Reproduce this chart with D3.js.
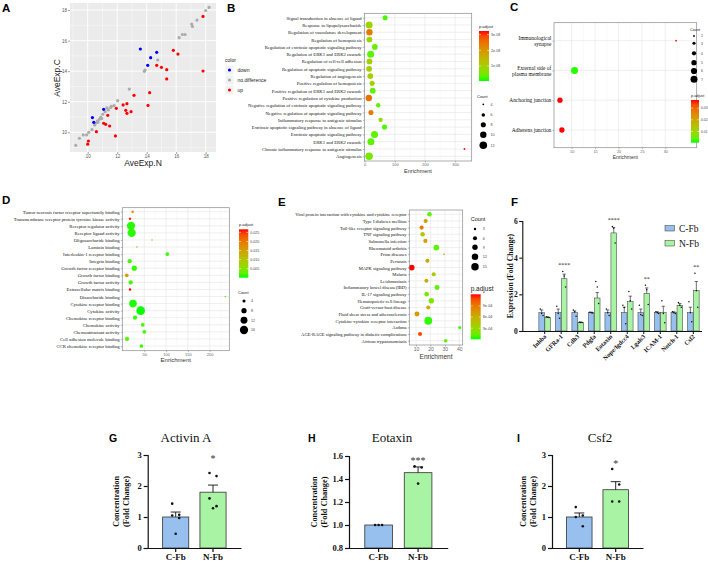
<!DOCTYPE html>
<html lang="en">
<head>
<meta charset="UTF-8">
<title>fibroblast expression figure</title>
<style>
body{margin:0;background:#fff;}
svg{display:block;}
</style>
</head>
<body>
<script src="https://cdn.jsdelivr.net/npm/d3@7"></script>
<script>
// ---------- data: A (AveExp.N, AveExp.C)
var aSame = [[18.23,18.17],[18.0,17.97],[17.41,17.34],[17.05,17.08],[17.1,16.93],[16.6,16.4],[16.42,16.4],[16.2,16.19],
  [14.75,14.73],[13.89,14.07],[13.84,13.99],[12.82,12.83],[12.03,12.07],[11.79,11.74],[11.56,11.63],[11.6,11.7],
  [11.4,11.46],[11.3,11.6],[11.18,11.35],[11.02,11.18],[10.95,10.9],[10.88,10.98],[10.79,10.85],[10.7,10.65],
  [10.65,10.74],[10.54,10.59],[10.47,10.48],[10.29,10.17],[10.07,10.0],[9.93,9.83],[9.7,9.83],[9.44,9.61],[9.19,9.15]];
var aDown = [[13.57,15.45],[14.68,15.23],[14.27,14.88],[14.07,14.38],[11.08,11.5],[10.32,10.96],[10.41,10.65]];
var aUp = [[17.82,17.58],[15.81,15.36],[16.12,15.12],[14.68,14.38],[15.0,14.25],[15.36,14.1],[15.36,13.49],[17.82,14.01],
  [14.2,12.59],[13.14,12.42],[14.09,11.76],[12.66,11.87],[12.4,11.79],[12.58,11.44],[12.94,11.35],[12.66,11.24],
  [11.94,11.57],[11.36,11.11],[11.08,10.59],[11.22,10.52],[11.49,10.41],[10.59,10.04],[11.88,9.76],[10.05,9.43],[10.0,9.22]];

// ---------- data: B (GO BP)
var bTerms = ["Signal transduction in absence of ligand","Response to lipopolysaccharide","Regulation of vasculature development",
  "Regulation of hemopoiesis","Regulation of extrinsic apoptotic signaling pathway","Regulation of ERK1 and ERK2 cascade",
  "Regulation of cell-cell adhesion","Regulation of  apoptotic signaling pathway","Regulation of  angiogenesis",
  "Positive regulation of hemopoiesis","Positive regulation of ERK1 and ERK2 cascade","Positive regulation of cytokine production",
  "Negative regulation of extrinsic apoptotic signaling pathway","Negative regulation of apoptotic signaling pathway",
  "Inflammatory response to antigenic stimulus","Extrinsic apoptotic signaling pathway in absence of ligand",
  "Extrinsic apoptotic signaling pathway","ERK1 and ERK2 cascade","Chronic inflammatory response to antigenic stimulus","Angiogenesis"];
var bEnrich = [68,15,16,16,34,20,16,15,19,25,27,14,45,21,53,66,33,21,331,15];
var bCount = [8,11,10,9,9,11,9,9,9,8,9,10,7,8,7,8,11,11,4,12];
var bPadj = [0.2e-8,0.9e-8,2.4e-8,0.9e-8,0.4e-8,0.3e-8,1.0e-8,1.0e-8,1.0e-8,1.0e-8,0.3e-8,2.5e-8,0.3e-8,2.4e-8,0.8e-8,0.2e-8,0.3e-8,0.3e-8,3.3e-8,0.5e-8];

// ---------- data: C (GO CC)
var cTerms = ["Immunological\nsynapse","External side of\nplasma membrane","Anchoring junction","Adherens junction"];
var cEnrich = [32.3,10.6,7.5,7.9];
var cCount = [2,7,5,5];
var cPadj = [0.0365,0.001,0.0369,0.0369];

// ---------- data: D (GO MF)
var dTerms = ["Tumor necrosis factor receptor superfamily binding","Transmembrane receptor protein tyrosine kinase activity",
  "Receptor regulator activity","Receptor ligand activity","Oligosaccharide binding","Laminin binding","Interleukin-1 receptor binding",
  "Integrin binding","Growth factor receptor binding","Growth factor binding","Growth factor activity","Extracellular matrix binding",
  "Disaccharide binding","Cytokine receptor binding","Cytokine activity","Chemokine receptor binding","Chemokine activity",
  "Chemoattractant activity","Cell adhesion molecule binding","CCR chemokine receptor binding"];
var dEnrich = [23.3,17.2,19.5,21,67.7,33,102.8,16.4,27,9.6,18.7,17.2,235.8,24,41.7,28.7,46.3,50,10.3,43.2];
var dCount = [3,3,16,16,2,2,5,6,8,5,6,3,2,14,17,6,5,5,6,5];
var dPadj = [0.018,0.026,0.0005,0.0005,0.006,0.012,0.001,0.001,0.0008,0.015,0.001,0.0267,0.002,0.0003,0.0001,0.0008,0.001,0.001,0.002,0.001];

// ---------- data: E (KEGG)
var eTerms = ["Viral protein interaction with cytokine and cytokine receptor","Type I diabetes mellitus","Toll-like receptor signaling pathway",
  "TNF signaling pathway","Salmonella infection","Rheumatoid arthritis","Prion diseases","Pertussis","MAPK signaling pathway","Malaria",
  "Leishmaniasis","Inflammatory bowel disease(IBD)","IL-17 signaling pathway","Hematopoietic cell lineage","Graft-versus-host disease",
  "Fluid shear stress and atherosclerosis","Cytokine-cytokine receptor interaction","Asthma",
  "AGE-RAGE signaling pathway in diabetic complications","African trypanosomiasis"];
var eEnrich = [19.3,16.7,13.9,14.6,16.5,24.1,29.4,17.9,7,22.3,17.2,24.6,17.4,20.6,18.5,10.7,18.5,40.3,12.8,30.6];
var eCount = [7,6,6,7,6,10,2,6,10,6,6,8,7,9,6,8,16,4,6,5];
var ePadj = [0.0001,0.0007,0.0009,0.0004,0.0007,0.0001,0.0009,0.0006,0.00121,0.0004,0.0006,0.0001,0.0002,0.0002,0.0006,0.0007,0.00003,0.00005,0.0011,0.0001];

// ---------- data: F (qPCR)
var fGenes = ["Inhba","GFRa-1","Cdh3","Pdgfa","Eotaxin","Nope/Igdcc4","Lgals3","ICAM-1","Notch-1","Csf2"];
var fCMean = [1,1,1,1,1,1,1,1,1,1];
var fCSem = [0.15,0.2,0.1,0.03,0.15,0.3,0.2,0.05,0.05,0.3];
var fNMean = [0.75,2.85,0.47,1.8,5.35,1.6,2.05,1.0,1.4,2.2];
var fNSem = [0.02,0.25,0.02,0.3,0.3,0.3,0.3,0.35,0.1,0.5];
var fCPts = [[1.2,0.95,0.85],[1.35,0.95,0.7],[1.15,1.05,0.8],[1.02,1.0,0.98],[1.2,1.0,0.85],[1.4,1.28,0.4],[1.4,0.9,0.85],[1.05,1.0,0.95],[1.05,1.0,0.95],[1.6,1.0,0.5]];
var fNPts = [[0.78,0.75,0.73],[3.25,3.0,2.4],[0.48,0.47,0.46],[2.7,2.4,1.5],[5.7,5.6,4.8],[2.15,1.65,1.2],[2.5,2.25,1.45],[1.65,0.95,0.45],[1.55,1.4,1.3],[3.15,2.2,1.3]];
var fStars = ["","****","","","****","","**","","","**"];

// ---------- data: G, H, I (ELISA)
var groups = ["C-Fb","N-Fb"];
var gMean = [1.0,1.8], gSem = [0.16,0.23];
var gPts = [[1.43,1.07,1.05,0.97,0.46],[2.42,2.32,1.6,1.35,1.28]];
var hMean = [1.0,1.455], hSem = [0.0,0.05];
var hPts = [[1.0,1.0,1.0],[1.51,1.50,1.36]];
var iMean = [1.0,1.88], iSem = [0.13,0.26];
var iPts = [[1.32,1.05,1.0,0.7],[2.55,2.05,1.5,1.5]];

var SERIF = '"Liberation Serif","Times New Roman",serif';
var SANS = '"Liberation Sans",Arial,sans-serif';
var BLUE = "#98c0ee", GREEN = "#a9f3a4";

var svg = d3.select("body").append("svg").attr("width",708).attr("height",567)
  .style("font-family",SANS);
var defs = svg.append("defs");
var gid = 0;

function letter(t,x,y,fs){
  svg.append("text").attr("x",x).attr("y",y).attr("font-size",fs||11.5).attr("font-weight","bold").text(t);
}
function padjColor(dom){
  return d3.scaleLinear().domain(dom).range(["#00ff00","#ff0000"]).interpolate(d3.interpolateLab).clamp(true);
}

// ---------- panel A: scatter
(function(){
  var x = d3.scaleLinear().domain([8.8,18.7]).range([70,216]);
  var y = d3.scaleLinear().domain([8.71,18.46]).range([152,3]);
  var g = svg.append("g");
  var ticks = [10,12,14,16,18], minor = [9,11,13,15,17];
  g.append("rect").attr("x",70).attr("y",3).attr("width",146).attr("height",149).attr("fill","#ebebeb");
  g.selectAll(".mx").data(minor).join("line").attr("x1",x).attr("x2",x).attr("y1",3).attr("y2",152).attr("stroke","#fff").attr("stroke-width",0.4);
  g.selectAll(".my").data(minor).join("line").attr("y1",y).attr("y2",y).attr("x1",70).attr("x2",216).attr("stroke","#fff").attr("stroke-width",0.4);
  g.selectAll(".Mx").data(ticks).join("line").attr("x1",x).attr("x2",x).attr("y1",3).attr("y2",152).attr("stroke","#fff").attr("stroke-width",0.9);
  g.selectAll(".My").data(ticks).join("line").attr("y1",y).attr("y2",y).attr("x1",70).attr("x2",216).attr("stroke","#fff").attr("stroke-width",0.9);
  var sets = [[aSame,"#ababab"],[aDown,"#0000ff"],[aUp,"#ff0000"]];
  sets.forEach(function(s){
    g.append("g").selectAll("circle").data(s[0]).join("circle")
      .attr("cx",function(d){return x(d[0]);}).attr("cy",function(d){return y(d[1]);})
      .attr("r",1.6).attr("fill",s[1]);
  });
  var xa = g.append("g").attr("transform","translate(0,152)").call(d3.axisBottom(x).tickValues(ticks).tickSize(2).tickPadding(1));
  var ya = g.append("g").attr("transform","translate(70,0)").call(d3.axisLeft(y).tickValues(ticks).tickSize(2).tickPadding(1));
  [xa,ya].forEach(function(a){
    a.select(".domain").remove();
    a.selectAll("line").attr("stroke","#444").attr("stroke-width",0.5);
    a.selectAll("text").attr("fill","#555").attr("font-size",4.5).attr("font-family",SANS);
  });
  g.append("text").attr("x",143).attr("y",166).attr("text-anchor","middle").attr("font-size",8.5).attr("fill","#222").text("AveExp.N");
  g.append("text").attr("transform","translate(60,78) rotate(-90)").attr("text-anchor","middle").attr("font-size",8.5).attr("fill","#222").text("AveExp.C");
  // legend
  var lg = svg.append("g");
  lg.append("text").attr("x",225).attr("y",62).attr("font-size",5).attr("fill","#222").text("color");
  var keys = [["down","#0000ff"],["no.difference","#ababab"],["up","#ff0000"]];
  keys.forEach(function(k,i){
    var cy = 70 + i*10;
    lg.append("rect").attr("x",225.5).attr("y",cy-4.5).attr("width",8).attr("height",9).attr("fill","#f2f2f2");
    lg.append("circle").attr("cx",229.5).attr("cy",cy).attr("r",1.6).attr("fill",k[1]);
    lg.append("text").attr("x",237.5).attr("y",cy+1.7).attr("font-size",5).attr("fill","#222").text(k[0]);
  });
})();

// ---------- generic enrichment dot plot
function dotPlot(o){
  var g = svg.append("g");
  var x = d3.scaleLinear().domain(o.xDomain).range([o.left,o.right]);
  var y = d3.scalePoint().domain(o.terms).range([o.rowTop,o.rowBot]);
  var r = d3.scaleSqrt().domain(o.cDomain).range(o.rRange);
  var col = padjColor(o.pDomain);
  var minor = [];
  for(var i=0;i<o.xTicks.length-1;i++) minor.push((o.xTicks[i]+o.xTicks[i+1])/2);
  var step = o.xTicks[1]-o.xTicks[0];
  if(o.xTicks[0]-step/2>o.xDomain[0]) minor.unshift(o.xTicks[0]-step/2);
  var last = o.xTicks[o.xTicks.length-1]+step/2;
  if(last<o.xDomain[1]) minor.push(last);
  g.append("rect").attr("x",o.left).attr("y",o.top).attr("width",o.right-o.left).attr("height",o.bottom-o.top).attr("fill","#fff");
  g.selectAll(".mn").data(minor).join("line").attr("x1",x).attr("x2",x).attr("y1",o.top).attr("y2",o.bottom).attr("stroke","#f2f2f2").attr("stroke-width",0.4);
  g.selectAll(".mj").data(o.xTicks).join("line").attr("x1",x).attr("x2",x).attr("y1",o.top).attr("y2",o.bottom).attr("stroke","#e4e4e4").attr("stroke-width",0.6);
  g.selectAll(".hr").data(o.terms).join("line").attr("y1",y).attr("y2",y).attr("x1",o.left).attr("x2",o.right).attr("stroke","#e4e4e4").attr("stroke-width",0.6);
  var rows = o.terms.map(function(t,i){return {t:t,e:o.enrich[i],c:o.count[i],p:o.padj[i]};});
  g.selectAll("circle").data(rows).join("circle")
    .attr("cx",function(d){return x(d.e);}).attr("cy",function(d){return y(d.t);})
    .attr("r",function(d){return r(d.c);}).attr("fill",function(d){return col(d.p);});
  g.append("rect").attr("x",o.left).attr("y",o.top).attr("width",o.right-o.left).attr("height",o.bottom-o.top)
    .attr("fill","none").attr("stroke","#8a8a8a").attr("stroke-width",0.7);
  var xa = g.append("g").attr("transform","translate(0,"+o.bottom+")").call(d3.axisBottom(x).tickValues(o.xTicks).tickSize(1.5).tickPadding(1));
  xa.select(".domain").remove();
  xa.selectAll("line").attr("stroke","#555").attr("stroke-width",0.4);
  xa.selectAll("text").attr("fill","#666").attr("font-size",o.tickFs).attr("font-family",SANS);
  var ya = g.append("g").attr("transform","translate("+o.left+",0)").call(d3.axisLeft(y).tickSize(1.5).tickPadding(1.2));
  ya.select(".domain").remove();
  ya.selectAll("line").attr("stroke","#555").attr("stroke-width",0.4);
  ya.selectAll("text").attr("fill","#111").attr("font-size",o.catFs).attr("font-family",SERIF)
    .each(function(d){
      var parts = d.split("\n");
      if(parts.length<2) return;
      var t = d3.select(this), xx = t.attr("x");
      t.text(null).attr("dy",null);
      parts.forEach(function(p,k){
        t.append("tspan").attr("x",xx).attr("dy",k===0?((0.32-(parts.length-1)*0.55)+"em"):"1.1em").text(p);
      });
    });
  g.append("text").attr("x",(o.left+o.right)/2).attr("y",o.titleY).attr("text-anchor","middle")
    .attr("font-size",o.titleFs).attr("fill","#333").text("Enrichment");
  return {r:r,col:col};
}

function colorBar(o){
  var id = "grad"+(gid++);
  var col = padjColor(o.dom);
  var grad = defs.append("linearGradient").attr("id",id).attr("x1",0).attr("y1",1).attr("x2",0).attr("y2",0);
  d3.range(0,1.0001,0.1).forEach(function(t){
    grad.append("stop").attr("offset",t).attr("stop-color",col(o.dom[0]+t*(o.dom[1]-o.dom[0])));
  });
  var g = svg.append("g");
  g.append("text").attr("x",o.x).attr("y",o.y-3).attr("font-size",o.titleFs).attr("fill","#222").text("p.adjust");
  g.append("rect").attr("x",o.x).attr("y",o.y).attr("width",o.w).attr("height",o.h).attr("fill","url(#"+id+")");
  var s = d3.scaleLinear().domain(o.dom).range([o.y+o.h,o.y]);
  o.ticks.forEach(function(t){
    g.append("line").attr("x1",o.x).attr("x2",o.x+2).attr("y1",s(t)).attr("y2",s(t)).attr("stroke","#fff").attr("stroke-width",0.5);
    g.append("line").attr("x1",o.x+o.w-2).attr("x2",o.x+o.w).attr("y1",s(t)).attr("y2",s(t)).attr("stroke","#fff").attr("stroke-width",0.5);
    g.append("text").attr("x",o.x+o.w+2).attr("y",s(t)+1.4).attr("font-size",o.fs).attr("fill","#444").text(o.fmt(t));
  });
}

function sizeLegend(o){
  var g = svg.append("g");
  g.append("text").attr("x",o.x).attr("y",o.titleY).attr("font-size",o.titleFs).attr("fill","#222").text("Count");
  o.counts.forEach(function(c,i){
    g.append("circle").attr("cx",o.cx).attr("cy",o.ys[i]).attr("r",o.r(c)).attr("fill","#000");
    g.append("text").attr("x",o.lx).attr("y",o.ys[i]+1.4).attr("font-size",o.fs).attr("fill","#444").text(c);
  });
}

// ---------- panel B
var pb = dotPlot({terms:bTerms,enrich:bEnrich,count:bCount,padj:bPadj,
  left:364.3,right:471.7,top:13.3,bottom:161,rowTop:17.7,rowBot:156.3,
  xDomain:[-1,355],xTicks:[0,100,200,300],cDomain:[4,12],rRange:[0.9,3.8],pDomain:[0.04e-8,3.23e-8],
  tickFs:4,catFs:4.7,titleFs:5.5,titleY:173});
colorBar({x:479,y:31,w:10,h:50,dom:[0.04e-8,3.23e-8],ticks:[1e-8,2e-8,3e-8],fmt:function(t){return Math.round(t*1e8)+"e-08";},titleFs:4,fs:3.6});
sizeLegend({x:477,titleY:97.5,titleFs:4,cx:483.3,lx:490.5,ys:[104.3,115,124.7,134.7,145.3],counts:[4,6,8,10,12],r:pb.r,fs:3.6});

// ---------- panel C
var pc = dotPlot({terms:cTerms,enrich:cEnrich,count:cCount,padj:cPadj,
  left:554,right:696.7,top:22.7,bottom:147.7,rowTop:40.7,rowBot:130,
  xDomain:[6.22,36.7],xTicks:[10,15,20,25,30],cDomain:[2,7],rRange:[0.9,3.5],pDomain:[0.0005,0.0369],
  tickFs:3.8,catFs:5.4,titleFs:5,titleY:158.5});
sizeLegend({x:690,titleY:30.5,titleFs:3.8,cx:694,lx:701,ys:[36,43.3,53.3,62.7,71,79.3],counts:[2,3,4,5,6,7],r:pc.r,fs:3.4});
colorBar({x:691,y:100,w:8,h:42.7,dom:[0.0005,0.0369],ticks:[0.01,0.02,0.03],fmt:d3.format(".2f"),titleFs:3.8,fs:3.4});

// ---------- panel D
var pd = dotPlot({terms:dTerms,enrich:dEnrich,count:dCount,padj:dPadj,
  left:122.3,right:229.3,top:207.7,bottom:350.7,rowTop:211.7,rowBot:346,
  xDomain:[-0.5,245],xTicks:[50,100,150,200],cDomain:[2,17],rRange:[0.8,4.3],pDomain:[0.00005,0.0267],
  tickFs:4,catFs:4.7,titleFs:6,titleY:362});
colorBar({x:239,y:229.3,w:9.3,h:48.4,dom:[0.00005,0.0267],ticks:[0.005,0.01,0.015,0.02,0.025],fmt:d3.format(".3f"),titleFs:4,fs:3.6});
sizeLegend({x:238,titleY:294,titleFs:4,cx:244,lx:251,ys:[301,310.7,320.3,330],counts:[4,8,12,16],r:pd.r,fs:3.6});

// ---------- panel E
var pe = dotPlot({terms:eTerms,enrich:eEnrich,count:eCount,padj:ePadj,
  left:409.3,right:462.7,top:210,bottom:345,rowTop:214.3,rowBot:340.7,
  xDomain:[5.36,42.36],xTicks:[10,20,30,40],cDomain:[2,16],rRange:[0.8,3.9],pDomain:[0.000004,0.00121],
  tickFs:5,catFs:4.6,titleFs:6.5,titleY:359});
sizeLegend({x:470.7,titleY:221,titleFs:5.5,cx:475,lx:482.7,ys:[229,238.3,247.3,256.7,266.7],counts:[3,6,9,12,15],r:pe.r,fs:3.8});
colorBar({x:470.7,y:294.3,w:10,h:45,dom:[0.000004,0.00121],ticks:[0.0003,0.0006,0.0009],fmt:function(t){return Math.round(t*1e4)+"e-04";},titleFs:6.5,fs:3.8});

// ---------- panel F: grouped bars
(function(){
  var g = svg.append("g");
  var y = d3.scaleLinear().domain([0,6]).range([331,221]);
  var x = d3.scaleBand().domain(fGenes).range([536.4,701.6]);
  var sub = d3.scaleBand().domain(["C","N"]).range([-6,6]);
  var series = [["C",fCMean,fCSem,fCPts,BLUE],["N",fNMean,fNSem,fNPts,GREEN]];
  series.forEach(function(s){
    var rows = fGenes.map(function(gn,i){return {g:gn,m:s[1][i],e:s[2][i],p:s[3][i]};});
    var cx = function(d){return x(d.g)+x.bandwidth()/2+sub(s[0])+sub.bandwidth()/2;};
    g.append("g").selectAll("rect").data(rows).join("rect")
      .attr("x",function(d){return cx(d)-2.8;}).attr("width",5.6)
      .attr("y",function(d){return y(d.m);}).attr("height",function(d){return y(0)-y(d.m);})
      .attr("fill",s[4]).attr("stroke","#333").attr("stroke-width",0.5);
    var eb = g.append("g").attr("stroke","#111").attr("stroke-width",0.6);
    rows.forEach(function(d){
      if(d.e<=0) return;
      eb.append("line").attr("x1",cx(d)).attr("x2",cx(d)).attr("y1",y(d.m)).attr("y2",y(d.m+d.e));
      eb.append("line").attr("x1",cx(d)-1.6).attr("x2",cx(d)+1.6).attr("y1",y(d.m+d.e)).attr("y2",y(d.m+d.e));
    });
    rows.forEach(function(d){
      d.p.forEach(function(v,k){
        g.append("circle").attr("cx",cx(d)+(k-(d.p.length-1)/2)*1.4).attr("cy",y(v)).attr("r",0.75).attr("fill","#111");
      });
    });
  });
  fGenes.forEach(function(gn,i){
    if(!fStars[i]) return;
    var top = Math.max(fNMean[i]+fNSem[i],d3.max(fNPts[i]));
    g.append("text").attr("x",x(gn)+x.bandwidth()/2+sub("N")+sub.bandwidth()/2).attr("y",y(top)-4.5)
      .attr("text-anchor","middle").attr("font-size",6).attr("fill","#222").attr("font-family",SERIF).text(fStars[i]);
  });
  var ya = g.append("g").attr("transform","translate(522.3,0)").call(d3.axisLeft(y).tickValues([0,2,4,6]).tickSize(3).tickPadding(1.5).tickFormat(d3.format("d")));
  ya.select(".domain").attr("stroke","#111").attr("stroke-width",1.1);
  ya.selectAll("line").attr("stroke","#111").attr("stroke-width",1.1);
  ya.selectAll("text").attr("font-family",SERIF).attr("font-weight","bold").attr("font-size",7.5).attr("fill","#111");
  var xa = g.append("g").attr("transform","translate(0,331)").call(d3.axisBottom(x).tickSize(3).tickSizeOuter(0).tickFormat(""));
  xa.select(".domain").attr("d","M522.3,0.5H702").attr("stroke","#111").attr("stroke-width",1.1);
  xa.selectAll("line").attr("stroke","#111").attr("stroke-width",1);
  xa.selectAll(".tick").append("text").attr("transform","translate(2,6) rotate(-45)").attr("text-anchor","end")
    .attr("font-family",SERIF).attr("font-weight","bold").attr("font-size",6.3).attr("fill","#111").text(function(d){return d;});
  g.append("text").attr("transform","translate(513,276) rotate(-90)").attr("text-anchor","middle")
    .attr("font-family",SERIF).attr("font-weight","bold").attr("font-size",7.6).attr("fill","#111").text("Expression (Fold Change)");
  [["C-Fb",BLUE,228.3],["N-Fb",GREEN,243.3]].forEach(function(l){
    g.append("rect").attr("x",665).attr("y",l[2]-2.7).attr("width",9.5).attr("height",5.4).attr("fill",l[1]).attr("stroke","#333").attr("stroke-width",0.5);
    g.append("text").attr("x",679).attr("y",l[2]+3.3).attr("font-family",SERIF).attr("font-size",9.5).attr("fill","#111").text(l[0]);
  });
})();

// ---------- panels G, H, I
function barPanel(o){
  var g = svg.append("g");
  var y = d3.scaleLinear().domain(o.yDomain).range([o.yBot,o.yTop]);
  var x = d3.scaleBand().domain(groups).range([o.x0,o.x1]).paddingInner(0.3).paddingOuter(0.4);
  var fills = [BLUE,GREEN];
  groups.forEach(function(gr,i){
    var cx = x(gr)+x.bandwidth()/2;
    g.append("rect").attr("x",x(gr)).attr("width",x.bandwidth()).attr("y",y(o.mean[i])).attr("height",y(o.yDomain[0])-y(o.mean[i]))
      .attr("fill",fills[i]).attr("stroke","#333").attr("stroke-width",0.8);
    if(o.sem[i]>0){
      g.append("line").attr("x1",cx).attr("x2",cx).attr("y1",y(o.mean[i])).attr("y2",y(o.mean[i]+o.sem[i])).attr("stroke","#111").attr("stroke-width",0.9);
      g.append("line").attr("x1",cx-5).attr("x2",cx+5).attr("y1",y(o.mean[i]+o.sem[i])).attr("y2",y(o.mean[i]+o.sem[i])).attr("stroke","#111").attr("stroke-width",0.9);
    }
    var pts = o.pts[i];
    pts.forEach(function(v,k){
      g.append("circle").attr("cx",cx+(k%2?3.5:-3.5)+(k===pts.length-1&&pts.length%2?3.5:0)).attr("cy",y(v)).attr("r",1.3).attr("fill","#111");
    });
  });
  g.append("text").attr("x",x("N-Fb")+x.bandwidth()/2).attr("y",o.starY).attr("text-anchor","middle")
    .attr("font-family",SERIF).attr("font-size",10).attr("fill","#333").text(o.star);
  var ya = g.append("g").attr("transform","translate("+o.x0+",0)").call(d3.axisLeft(y).tickValues(o.yTicks).tickSize(4).tickPadding(2).tickFormat(o.fmt));
  ya.select(".domain").attr("stroke","#111").attr("stroke-width",1.2);
  ya.selectAll("line").attr("stroke","#111").attr("stroke-width",1.2);
  ya.selectAll("text").attr("font-family",SERIF).attr("font-weight","bold").attr("font-size",8.5).attr("fill","#111");
  var xa = g.append("g").attr("transform","translate(0,"+o.yBot+")").call(d3.axisBottom(x).tickSize(4).tickSizeOuter(0).tickPadding(2));
  xa.select(".domain").attr("stroke","#111").attr("stroke-width",1.2);
  xa.selectAll("line").attr("stroke","#111").attr("stroke-width",1.2);
  xa.selectAll("text").attr("font-family",SERIF).attr("font-weight","bold").attr("font-size",9).attr("fill","#111");
  var lab = g.append("text").attr("transform","translate("+o.labX+","+((o.yTop+o.yBot)/2)+") rotate(-90)").attr("text-anchor","middle")
    .attr("font-family",SERIF).attr("font-weight","bold").attr("font-size",8.3).attr("fill","#111");
  lab.append("tspan").attr("x",0).attr("dy",0).text("Concentration");
  lab.append("tspan").attr("x",0).attr("dy","1.25em").text("(Fold Change)");
  g.append("text").attr("x",o.titleX).attr("y",o.titleY).attr("text-anchor","middle").attr("font-family",SERIF).attr("font-size",13).attr("fill","#111").text(o.title);
  letter(o.letter,o.letterX,o.titleY,10.5);
}
barPanel({x0:147.7,x1:241,yDomain:[0,3],yTicks:[0,1,2,3],fmt:d3.format("d"),yTop:455,yBot:548,mean:gMean,sem:gSem,pts:gPts,
  star:"*",starY:462,labX:119,title:"Activin A",titleX:186,titleY:442,letter:"G",letterX:109});
barPanel({x0:349,x1:447.7,yDomain:[0.8,1.6],yTicks:[0.8,1.0,1.2,1.4,1.6],fmt:d3.format(".1f"),yTop:456,yBot:548,mean:hMean,sem:hSem,pts:hPts,
  star:"***",starY:464,labX:317,title:"Eotaxin",titleX:392,titleY:442,letter:"H",letterX:308});
barPanel({x0:552,x1:643,yDomain:[0,3],yTicks:[0,1,2,3],fmt:d3.format("d"),yTop:455,yBot:548,mean:iMean,sem:iSem,pts:iPts,
  star:"*",starY:467,labX:526,title:"Csf2",titleX:600,titleY:442,letter:"I",letterX:517});

letter("A",2,12); letter("B",227,12); letter("C",510,11);
letter("D",2,203.5); letter("E",278,206); letter("F",511,206);
</script>
</body>
</html>
